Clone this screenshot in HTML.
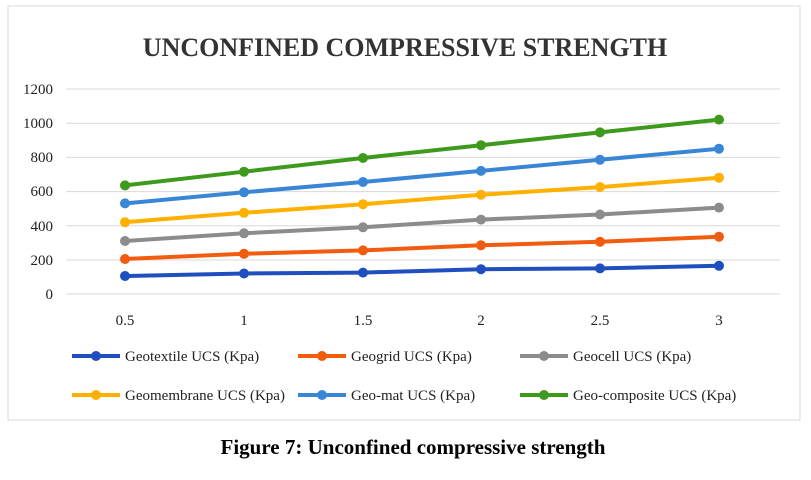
<!DOCTYPE html>
<html><head><style>
body{margin:0;background:#fff;width:811px;height:475px;overflow:hidden}
svg text{font-family:"Liberation Serif",serif}
</style></head><body>
<svg width="811" height="475" xmlns="http://www.w3.org/2000/svg">
<rect x="8" y="6" width="792" height="414" fill="#fff" stroke="#d9d9d9"/>
<text x="405" y="56" font-size="26" font-weight="bold" text-anchor="middle" fill="#333">UNCONFINED COMPRESSIVE STRENGTH</text>
<g stroke="#d9d9d9" stroke-width="1">
<line x1="66" x2="780" y1="89" y2="89"/><line x1="66" x2="780" y1="123.2" y2="123.2"/>
<line x1="66" x2="780" y1="157.4" y2="157.4"/><line x1="66" x2="780" y1="191.6" y2="191.6"/>
<line x1="66" x2="780" y1="225.8" y2="225.8"/><line x1="66" x2="780" y1="260" y2="260"/>
<line x1="66" x2="780" y1="294" y2="294"/>
</g>
<g font-size="15" fill="#222" text-anchor="end">
<text x="53" y="94">1200</text><text x="53" y="128">1000</text><text x="53" y="162">800</text>
<text x="53" y="196">600</text><text x="53" y="231">400</text><text x="53" y="265">200</text><text x="53" y="299">0</text>
</g>
<g font-size="15" fill="#222" text-anchor="middle">
<text x="125" y="325">0.5</text><text x="244" y="325">1</text><text x="363" y="325">1.5</text>
<text x="481" y="325">2</text><text x="600" y="325">2.5</text><text x="719" y="325">3</text>
</g>
<g stroke-width="4" fill="none" stroke-linejoin="round">
<polyline stroke="#1f4fbf" points="125,276 244,273.5 363,272.6 481,269.2 600,268.4 719,265.8"/>
<polyline stroke="#f25c0f" points="125,259 244,253.8 363,250.4 481,245.3 600,241.8 719,236.7"/>
<polyline stroke="#8c8c8c" points="125,241 244,233.3 363,227.3 481,219.6 600,214.5 719,207.6"/>
<polyline stroke="#ffb000" points="125,222.2 244,212.8 363,204.2 481,194.8 600,187.1 719,177.7"/>
<polyline stroke="#3a86d6" points="125,203.4 244,192.3 363,182 481,170.9 600,159.8 719,148.7"/>
<polyline stroke="#3e9a1c" points="125,185.4 244,171.7 363,158 481,145.2 600,132.4 719,119.6"/>
</g>
<g>
<g fill="#1f4fbf"><circle cx="125" cy="276" r="5"/><circle cx="244" cy="273.5" r="5"/><circle cx="363" cy="272.6" r="5"/><circle cx="481" cy="269.2" r="5"/><circle cx="600" cy="268.4" r="5"/><circle cx="719" cy="265.8" r="5"/></g>
<g fill="#f25c0f"><circle cx="125" cy="259" r="5"/><circle cx="244" cy="253.8" r="5"/><circle cx="363" cy="250.4" r="5"/><circle cx="481" cy="245.3" r="5"/><circle cx="600" cy="241.8" r="5"/><circle cx="719" cy="236.7" r="5"/></g>
<g fill="#8c8c8c"><circle cx="125" cy="241" r="5"/><circle cx="244" cy="233.3" r="5"/><circle cx="363" cy="227.3" r="5"/><circle cx="481" cy="219.6" r="5"/><circle cx="600" cy="214.5" r="5"/><circle cx="719" cy="207.6" r="5"/></g>
<g fill="#ffb000"><circle cx="125" cy="222.2" r="5"/><circle cx="244" cy="212.8" r="5"/><circle cx="363" cy="204.2" r="5"/><circle cx="481" cy="194.8" r="5"/><circle cx="600" cy="187.1" r="5"/><circle cx="719" cy="177.7" r="5"/></g>
<g fill="#3a86d6"><circle cx="125" cy="203.4" r="5"/><circle cx="244" cy="192.3" r="5"/><circle cx="363" cy="182" r="5"/><circle cx="481" cy="170.9" r="5"/><circle cx="600" cy="159.8" r="5"/><circle cx="719" cy="148.7" r="5"/></g>
<g fill="#3e9a1c"><circle cx="125" cy="185.4" r="5"/><circle cx="244" cy="171.7" r="5"/><circle cx="363" cy="158" r="5"/><circle cx="481" cy="145.2" r="5"/><circle cx="600" cy="132.4" r="5"/><circle cx="719" cy="119.6" r="5"/></g>
</g>
<g stroke-width="4">
<line x1="72" x2="120" y1="356" y2="356" stroke="#1f4fbf"/><circle cx="96" cy="356" r="5" fill="#1f4fbf"/>
<line x1="298" x2="346" y1="356" y2="356" stroke="#f25c0f"/><circle cx="322" cy="356" r="5" fill="#f25c0f"/>
<line x1="520" x2="568" y1="356" y2="356" stroke="#8c8c8c"/><circle cx="544" cy="356" r="5" fill="#8c8c8c"/>
<line x1="72" x2="120" y1="395" y2="395" stroke="#ffb000"/><circle cx="96" cy="395" r="5" fill="#ffb000"/>
<line x1="298" x2="346" y1="395" y2="395" stroke="#3a86d6"/><circle cx="322" cy="395" r="5" fill="#3a86d6"/>
<line x1="520" x2="568" y1="395" y2="395" stroke="#3e9a1c"/><circle cx="544" cy="395" r="5" fill="#3e9a1c"/>
</g>
<g font-size="15" fill="#222">
<text x="125" y="361">Geotextile UCS (Kpa)</text><text x="351" y="361">Geogrid UCS (Kpa)</text><text x="573" y="361">Geocell UCS (Kpa)</text>
<text x="125" y="400">Geomembrane UCS (Kpa)</text><text x="351" y="400">Geo-mat UCS (Kpa)</text><text x="573" y="400">Geo-composite UCS (Kpa)</text>
</g>
<text x="413" y="454" font-size="21" font-weight="bold" text-anchor="middle" fill="#000">Figure 7: Unconfined compressive strength</text>
</svg>
</body></html>
